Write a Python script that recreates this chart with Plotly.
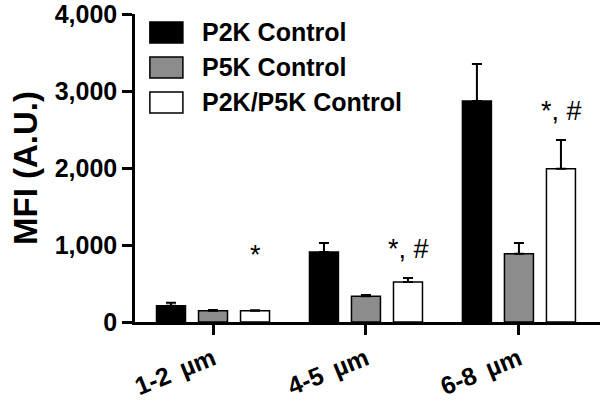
import plotly.graph_objects as go

# data
sizes = ['1-2\u2009 \u00b5m', '4-5\u2009 \u00b5m', '6-8\u2009 \u00b5m']
series_names = ['P2K Control', 'P5K Control', 'P2K/P5K Control']
series_colors = ['#000000', '#8c8c8c', '#ffffff']
p2k_mean = [210, 910, 2870]
p2k_err = [40, 115, 480]
p5k_mean = [145, 335, 885]
p5k_err = [12, 15, 140]
mix_mean = [145, 520, 1990]
mix_err = [8, 50, 375]
sig_labels = ['*', '*, #', '*, #']

means = [p2k_mean, p5k_mean, mix_mean]
errs = [p2k_err, p5k_err, mix_err]

FONT = 'Arial, Liberation Sans, sans-serif'

fig = go.Figure()
for name, color, m, e in zip(series_names, series_colors, means, errs):
    fig.add_trace(go.Bar(
        x=sizes, y=m, name=name,
        marker=dict(color=color, line=dict(color='black', width=1.5)),
        error_y=dict(type='data', array=e, arrayminus=[0] * len(e), symmetric=False,
                     color='black', thickness=2, width=5),
        showlegend=False,
    ))

# significance marks above the P2K/P5K bars
annotations = []
for i, lab in enumerate(sig_labels):
    top = mix_mean[i] + mix_err[i]
    annotations.append(dict(
        x=i + 0.275, y=max(top, 500), xref='x', yref='y',
        text=lab, showarrow=False, yanchor='bottom', yshift=12,
        font=dict(family=FONT, size=27, color='black')
    ))

# hand-drawn legend boxes like the original
shapes = []
for k, (name, color) in enumerate(zip(series_names, series_colors)):
    y1 = 0.974 - k * 0.1136
    y0 = y1 - 0.068
    shapes.append(dict(type='rect', xref='paper', yref='paper',
                       x0=0.032, x1=0.103, y0=y0, y1=y1,
                       fillcolor=color, line=dict(color='black', width=1.5)))
    annotations.append(dict(x=0.146, y=(y0 + y1) / 2, xref='paper', yref='paper',
                            text='<b>%s</b>' % name, showarrow=False,
                            xanchor='left', yanchor='middle', xshift=-3,
                            font=dict(family=FONT, size=25, color='black')))

fig.update_layout(
    width=600, height=403,
    barmode='group', bargap=0.176, bargroupgap=0.31,
    plot_bgcolor='white', paper_bgcolor='white',
    margin=dict(l=135, r=0, t=14, b=81),
    font=dict(family=FONT, color='black'),
    shapes=shapes, annotations=annotations,
    xaxis=dict(range=[-0.51, 2.53], showline=True, linecolor='black', linewidth=2.5,
               ticks='outside', ticklen=10, tickwidth=2.5, tickcolor='black',
               tickangle=-22, showgrid=False, automargin=False,
               ticklabeloverflow='allow',
               tickfont=dict(family=FONT, size=25, color='black', weight='bold')),
    yaxis=dict(range=[0, 4000], tickvals=[0, 1000, 2000, 3000, 4000],
               tickformat=',d', showline=True, linecolor='black', linewidth=2.5,
               ticks='outside', ticklen=10, tickwidth=2.5, tickcolor='black',
               showgrid=False, zeroline=False, automargin=False,
               ticklabeloverflow='allow',
               tickfont=dict(family=FONT, size=25, color='black', weight='bold'),
               title=dict(text='<b>MFI (A.U.)</b>', standoff=8,
                          font=dict(family=FONT, size=33, color='black'))),
)

# drop the browser's default page margin so the figure sits at the top-left corner
fig.write_html('out.html', config={'displayModeBar': False},
               post_script="document.body.style.margin='0';")
